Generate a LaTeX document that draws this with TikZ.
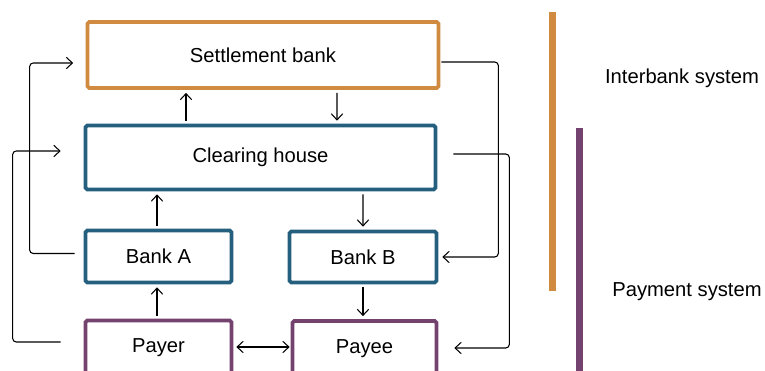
\documentclass[tikz,border=0pt]{standalone}
\usepackage{fontspec}
\setmainfont{Liberation Sans}
\usetikzlibrary{arrows.meta}
\definecolor{sysorange}{HTML}{D08B41}
\definecolor{sysblue}{HTML}{24607E}
\definecolor{syspurple}{HTML}{73426F}
\tikzset{
  box/.style={draw, line width=2.1pt, rounded corners=1pt, inner sep=0pt,
    font=\fontsize{11.5}{14}\selectfont},
  conn/.style={draw, line width=0.6pt, rounded corners=2pt,
    -{Straight Barb[length=3.5pt,width=6.5pt]}},
  bar/.style={line width=4pt}
}
\begin{document}
\begin{tikzpicture}[x=0.02cm, y=-0.02cm]
  \useasboundingbox (0,0) rectangle (765,371);
  \clip (0,0) rectangle (765,371);
  % boxes
  \node[box, draw=sysorange, minimum width=7.02cm, minimum height=1.32cm] (sb) at (263,55) {Settlement bank};
  \node[box, draw=sysblue, minimum width=7cm, minimum height=1.28cm] (ch) at (260.5,157.5) {Clearing house};
  \node[box, draw=sysblue, minimum width=2.92cm, minimum height=1.04cm] (bankA) at (158.5,256.5) {Bank A};
  \node[box, draw=sysblue, minimum width=2.94cm, minimum height=1.02cm] (bankB) at (363,257) {Bank B};
  \node[box, draw=syspurple, minimum width=2.92cm, minimum height=1.1cm] (payer) at (158.5,348) {Payer};
  \node[box, draw=syspurple, minimum width=2.88cm, minimum height=1.1cm] (payee) at (364.5,348.5) {Payee};
  % side bars
  \draw[bar, sysorange] (552.5,12) -- (552.5,291);
  \draw[bar, syspurple] (579.5,128) -- (579.5,371);
  \node[font=\fontsize{11.5}{14}\selectfont] (inter) at (682,78) {Interbank system};
  \node[font=\fontsize{11.5}{14}\selectfont] (pay) at (687,292) {Payment system};
  % vertical arrows
  \draw[conn] ([shift={(-74.5,-3)}]ch.north) -- ([shift={(-77,3)}]sb.south);
  \draw[conn] ([shift={(74,3)}]sb.south) -- ([shift={(76.5,-3)}]ch.north);
  \draw[conn] ([shift={(-1.5,-2.5)}]bankA.north) -- ([shift={(-103.5,3)}]ch.south);
  \draw[conn] ([shift={(102.5,3)}]ch.south) -- ([shift={(0,-3)}]bankB.north);
  \draw[conn] ([shift={(0,3)}]bankB.south) -- ([shift={(-1.5,-3)}]payee.north);
  \draw[conn] ([shift={(-1.5,-3)}]payer.north) -- ([shift={(-1.5,3)}]bankA.south);
  \draw[conn, {Straight Barb[length=3.5pt,width=6.5pt]}-{Straight Barb[length=3.5pt,width=6.5pt]}]
    ([shift={(3,-1)}]payer.east) -- ([shift={(-1,-1.5)}]payee.west);
  % loops left
  \draw[conn] ([shift={(-9,-3)}]bankA.west) -- ++(-45,0) |- ([shift={(-12.5,8)}]sb.west);
  \draw[conn] ([shift={(-23,-6)}]payer.west) -- ++(-48,0) |- ([shift={(-23,-6.5)}]ch.west);
  % loops right
  \draw[conn] ([shift={(1,7)}]sb.east) -- ++(57,0) |- ([shift={(4,0)}]bankB.east);
  \draw[conn] ([shift={(16,-3.5)}]ch.east) -- ++(56,0) |- ([shift={(16,-0.5)}]payee.east);
\end{tikzpicture}
\end{document}
